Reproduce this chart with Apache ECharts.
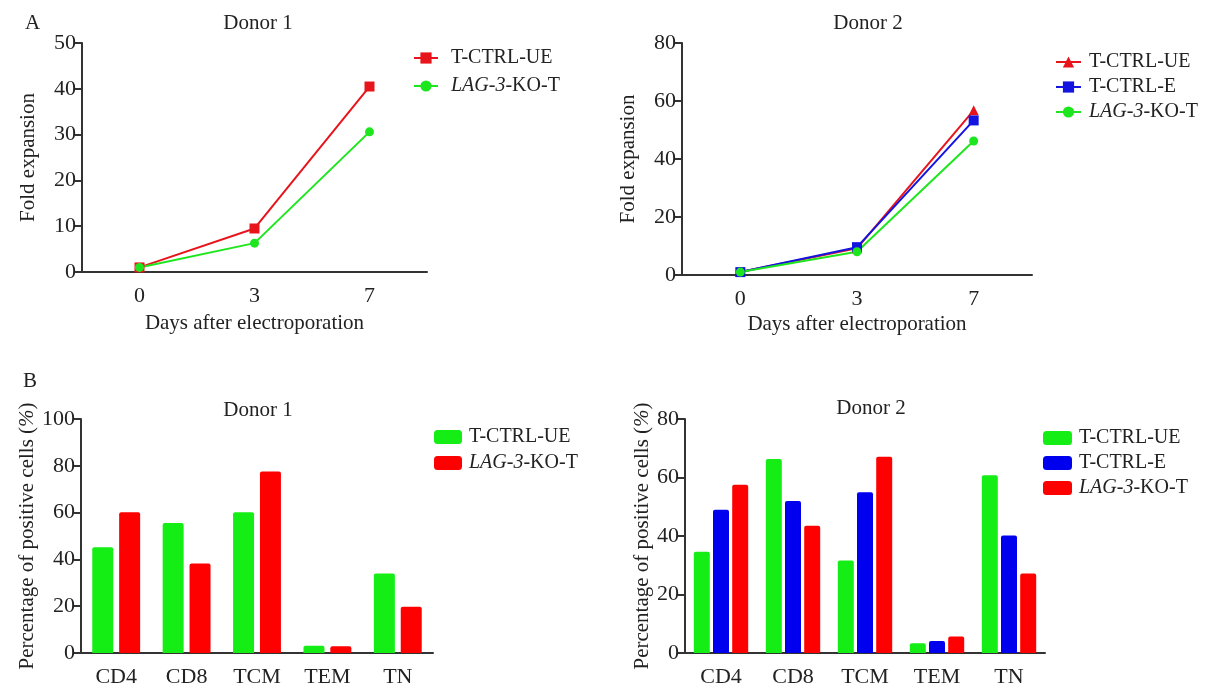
<!DOCTYPE html>
<html>
<head>
<meta charset="utf-8">
<script src="https://cdn.jsdelivr.net/npm/echarts@6/dist/echarts.min.js"></script>
<style>
  html, body { margin: 0; padding: 0; background: #fff; }
  #chart { width: 1208px; height: 688px; }
</style>
</head>
<body>
<div id="chart"></div>
<script>
// data
const days = ['0', '3', '7']
const d1FoldUE = [1.0, 9.5, 40.5]
const d1FoldKO = [1.0, 6.3, 30.6]
const d2FoldUE = [1.0, 9.2, 56.8]
const d2FoldE = [1.0, 9.6, 53.3]
const d2FoldKO = [1.0, 8.0, 46.2]

const subsets = ['CD4', 'CD8', 'TCM', 'TEM', 'TN']
const d1PctUE = [45.2, 55.6, 60.1, 3.1, 34.0]
const d1PctKO = [60.2, 38.3, 77.6, 2.9, 19.8]
const d2PctUE = [34.6, 66.3, 31.6, 3.3, 60.8]
const d2PctE = [49.0, 52.0, 55.0, 4.1, 40.2]
const d2PctKO = [57.5, 43.5, 67.1, 5.6, 27.2]

const FONT = '"Liberation Serif", "DejaVu Serif", serif'
const INK = '#222'
const AXIS = '#333'
const GREEN = '#14ee14'
const RED = '#f00'
const BLUE = '#0000ee'
const LRED = '#e8141c'
const LGREEN = '#1ee61e'
const LBLUE = '#1414e0'

const UE = 'T-CTRL-UE'
const E = 'T-CTRL-E'
const KO = 'LAG-3-KO-T'

// series names carry a panel prefix so the legends don't mix up colours
const tag = (p, n) => p + '|' + n

function legendFmt(pad) {
  return full => {
    const name = full.split('|').pop()
    const body = name === KO ? '{i|LAG-3}{n|-KO-T}' : '{n|' + name + '}'
    return '{p' + pad + '|}' + body
  }
}
const rich = {
  n: { fontFamily: FONT, fontSize: 20, color: INK },
  i: { fontFamily: FONT, fontSize: 20, color: INK, fontStyle: 'italic' },
  p8: { width: 8 },
  p3: { width: 3 },
  p2: { width: 2 }
}

function catAxis(gridIndex, data, nameText, nameGap, labelMargin) {
  return {
    type: 'category',
    gridIndex,
    data,
    name: nameText,
    nameLocation: 'middle',
    nameGap,
    nameTextStyle: { fontFamily: FONT, fontSize: 21, color: INK },
    axisLine: { lineStyle: { color: AXIS, width: 2 } },
    axisTick: { alignWithLabel: true, length: 7, lineStyle: { color: AXIS, width: 2 } },
    axisLabel: { fontFamily: FONT, fontSize: 22, color: INK, margin: labelMargin },
    splitLine: { show: false }
  }
}

function valAxis(gridIndex, max, interval, nameText, nameGap) {
  return {
    type: 'value',
    gridIndex,
    min: 0,
    max,
    interval,
    name: nameText,
    nameLocation: 'middle',
    nameGap,
    nameTextStyle: { fontFamily: FONT, fontSize: 21, color: INK, rich: {
      n: { fontFamily: FONT, fontSize: 21, color: INK },
      i: { fontFamily: FONT, fontSize: 21, color: INK, fontStyle: 'italic' }
    } },
    axisLine: { show: true, lineStyle: { color: AXIS, width: 2 } },
    axisTick: { show: true, length: 7, lineStyle: { color: AXIS, width: 2 } },
    axisLabel: { fontFamily: FONT, fontSize: 22, color: INK, margin: 6 },
    splitLine: { show: false }
  }
}

function lineSeries(name, idx, data, color, symbol, size) {
  return {
    name, type: 'line', xAxisIndex: idx, yAxisIndex: idx, data,
    symbol, symbolSize: size,
    lineStyle: { color, width: 2 },
    itemStyle: { color }
  }
}

function barSeries(name, idx, data, color, width, gap, catGap) {
  return {
    name, type: 'bar', xAxisIndex: idx, yAxisIndex: idx, data,
    barWidth: width, barGap: gap, barCategoryGap: catGap,
    itemStyle: { color, borderRadius: [2, 2, 0, 0] }
  }
}

const pctName = '{n|Percentage of positive cells (}{i|%}{n|)}'

const chart = echarts.init(document.getElementById('chart'), null, { renderer: 'canvas' })
chart.setOption({
  backgroundColor: '#fff',
  animation: false,
  title: [
    { text: 'A', left: 20, top: 8 },
    { text: 'Donor 1', left: 253, top: 8, textAlign: 'center' },
    { text: 'Donor 2', left: 863, top: 8, textAlign: 'center' },
    { text: 'B', left: 18, top: 366 },
    { text: 'Donor 1', left: 253, top: 395, textAlign: 'center' },
    { text: 'Donor 2', left: 866, top: 393, textAlign: 'center' }
  ].map(t => Object.assign(t, {
    textStyle: { fontFamily: FONT, fontSize: 21, fontWeight: 'normal', color: INK }
  })),
  legend: [
    {
      left: 408, top: 43, orient: 'vertical', itemWidth: 24, itemHeight: 14, itemGap: 8,
      data: [tag('a', UE), tag('a', KO)], formatter: legendFmt(8), textStyle: { rich }
    },
    {
      left: 1050, top: 47, orient: 'vertical', itemWidth: 25, itemHeight: 14, itemGap: 5,
      data: [tag('b', UE), tag('b', E), tag('b', KO)],
      formatter: legendFmt(3), textStyle: { rich }
    },
    {
      left: 429, top: 422, orient: 'vertical', itemWidth: 28, itemHeight: 14, itemGap: 6,
      icon: 'roundRect', data: [tag('c', UE), tag('c', KO)],
      formatter: legendFmt(2), textStyle: { rich }
    },
    {
      left: 1038, top: 423, orient: 'vertical', itemWidth: 29, itemHeight: 14, itemGap: 5,
      icon: 'roundRect', data: [tag('d', UE), tag('d', E), tag('d', KO)],
      formatter: legendFmt(2), textStyle: { rich }
    }
  ],
  grid: [
    { left: 82, top: 43, width: 345, height: 229 },
    { left: 682, top: 43, width: 350, height: 232 },
    { left: 81, top: 419, width: 352, height: 235 },
    { left: 685, top: 419, width: 360, height: 235 }
  ],
  xAxis: [
    catAxis(0, days, 'Days after electroporation', 41, 13),
    catAxis(1, days, 'Days after electroporation', 39, 13),
    catAxis(2, subsets, '', 30, 13),
    catAxis(3, subsets, '', 30, 13)
  ],
  yAxis: [
    valAxis(0, 50, 10, 'Fold expansion', 43),
    valAxis(1, 80, 20, 'Fold expansion', 43),
    valAxis(2, 100, 20, pctName, 43),
    valAxis(3, 80, 20, pctName, 31)
  ],
  series: [
    lineSeries(tag('a', UE), 0, d1FoldUE, LRED, 'rect', 10),
    lineSeries(tag('a', KO), 0, d1FoldKO, LGREEN, 'circle', 9),
    lineSeries(tag('b', UE), 1, d2FoldUE, LRED, 'triangle', 10),
    lineSeries(tag('b', E), 1, d2FoldE, LBLUE, 'rect', 10),
    lineSeries(tag('b', KO), 1, d2FoldKO, LGREEN, 'circle', 9),
    barSeries(tag('c', UE), 2, d1PctUE, GREEN, 21, '28%', '31%'),
    barSeries(tag('c', KO), 2, d1PctKO, RED, 21, '28%', '31%'),
    barSeries(tag('d', UE), 3, d2PctUE, GREEN, 16, '20%', '25%'),
    barSeries(tag('d', E), 3, d2PctE, BLUE, 16, '20%', '25%'),
    barSeries(tag('d', KO), 3, d2PctKO, RED, 16, '20%', '25%')
  ]
})
</script>
</body>
</html>
